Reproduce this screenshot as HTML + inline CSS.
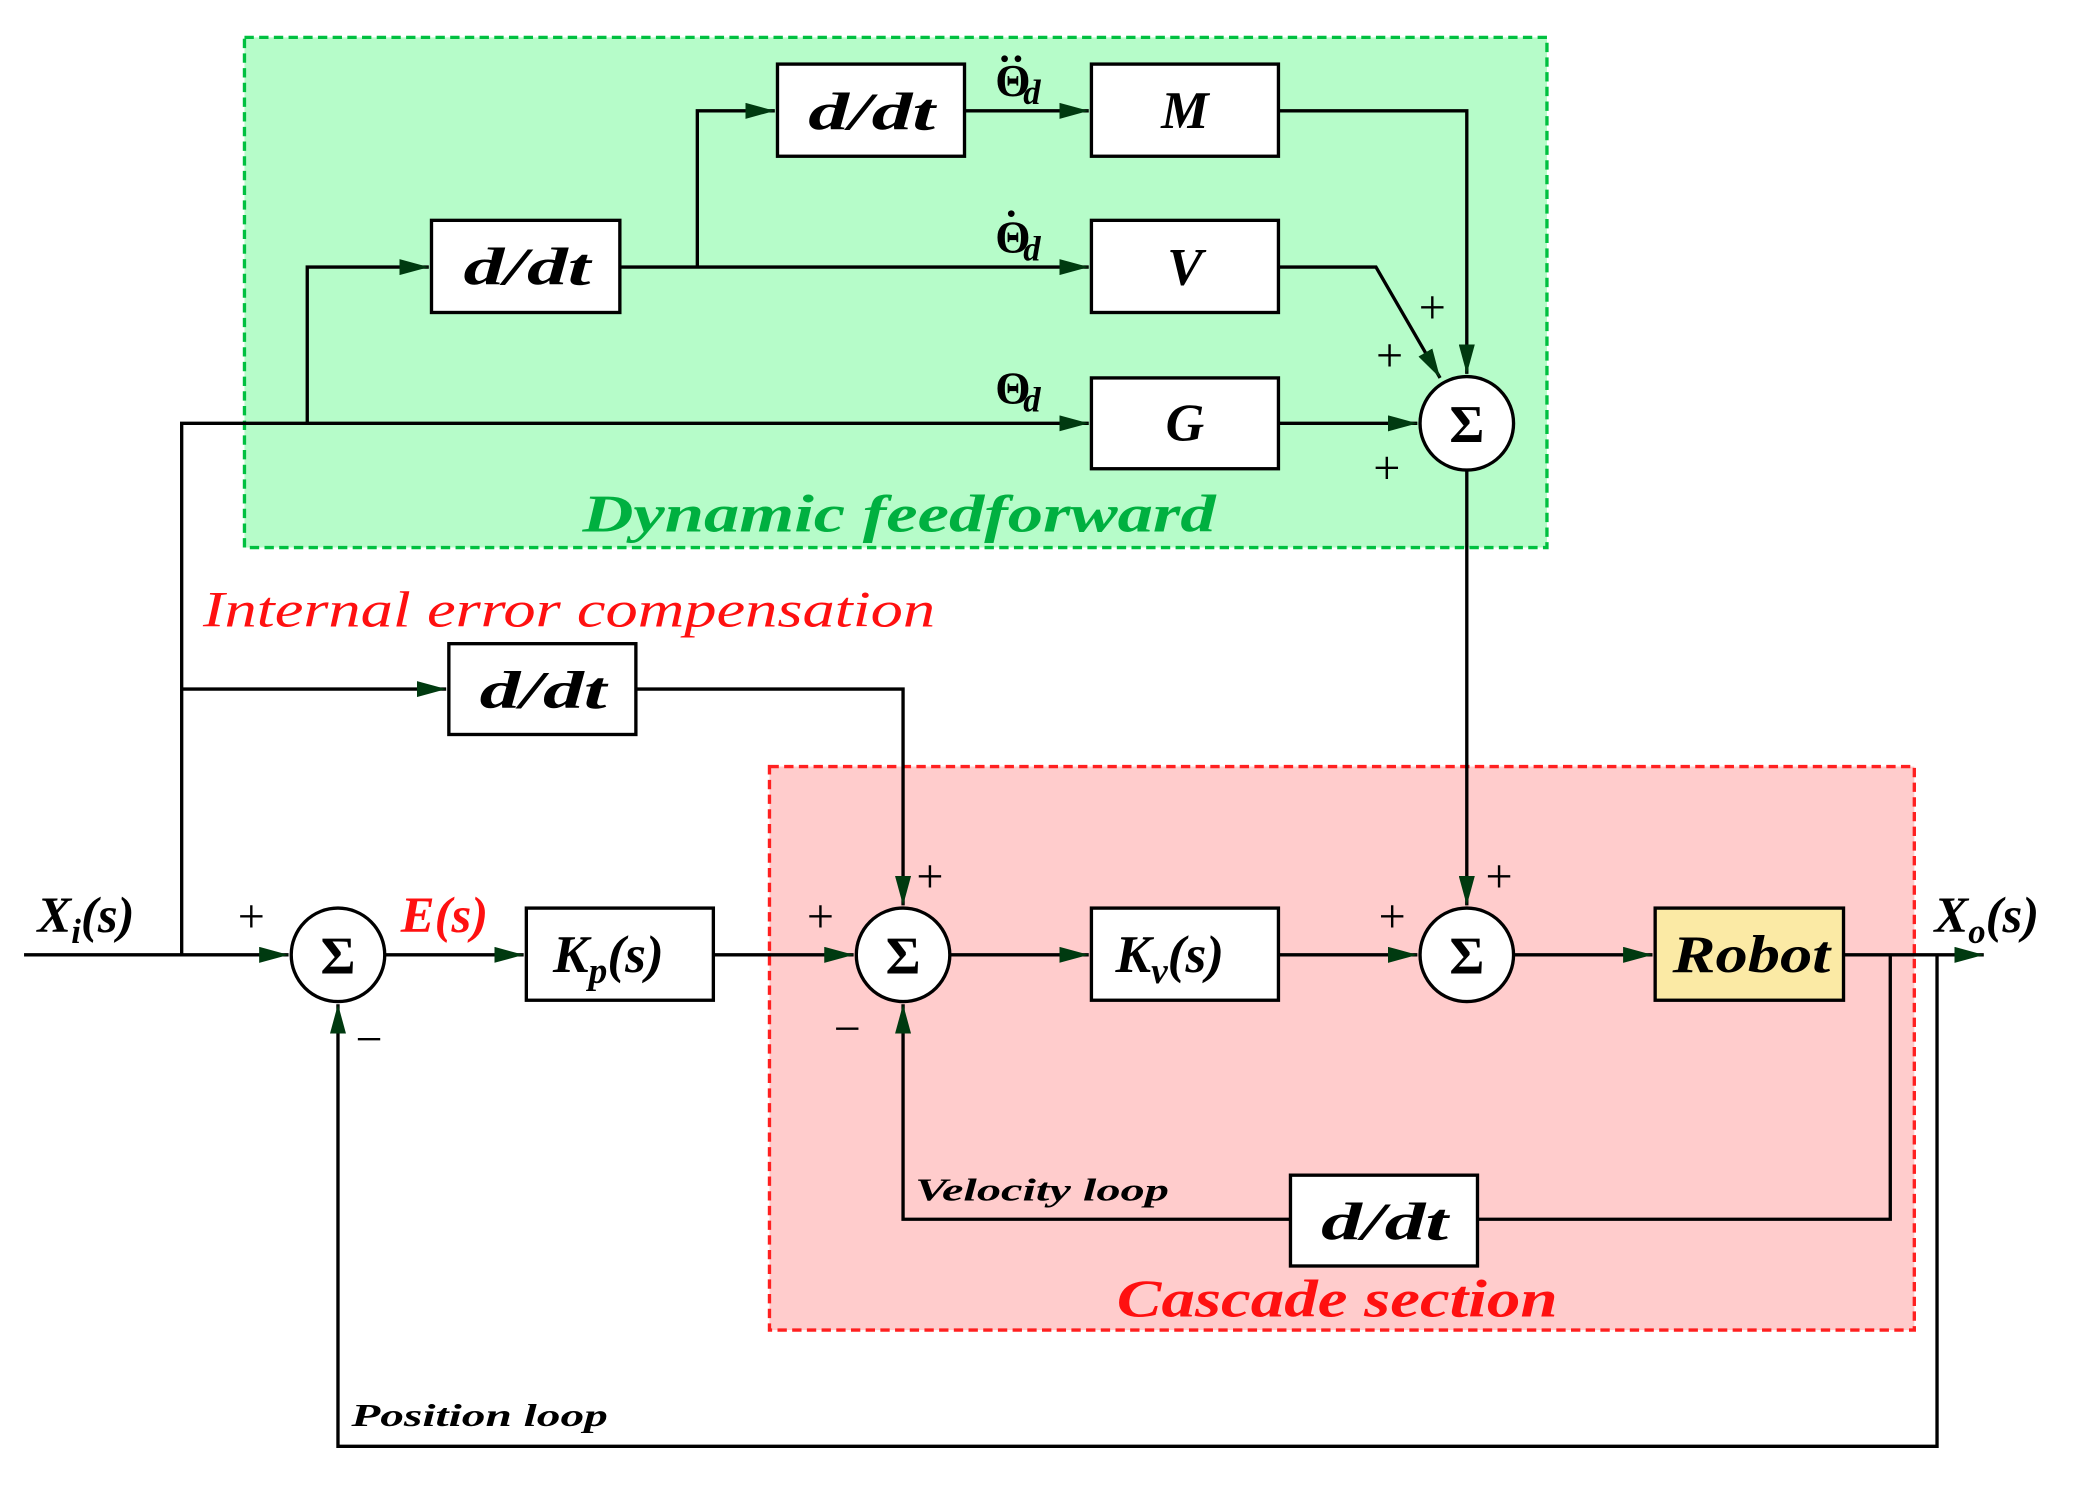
<!DOCTYPE html>
<html><head><style>html,body{margin:0;padding:0;background:#fff}svg{display:block}</style></head><body>
<svg width="2096" height="1485" viewBox="0 0 1569 1112" preserveAspectRatio="none" xmlns="http://www.w3.org/2000/svg" font-family="Liberation Serif, serif" font-style="italic" font-weight="bold">
<defs><marker id="g" markerWidth="22" markerHeight="12" refX="22" refY="6" orient="auto" markerUnits="userSpaceOnUse"><path d="M0,0L22,6L0,12z" fill="#003a10"/></marker></defs>
<rect x="183" y="28" width="975" height="382" fill="#b6fcc9" stroke="#00c040" stroke-width="2.5" stroke-dasharray="7,4"/>
<rect x="576" y="574" width="857" height="422" fill="#ffcccc" stroke="#ff2020" stroke-width="2.5" stroke-dasharray="7,4"/>
<g fill="none" stroke="#000" stroke-width="2.5">
<path d="M18,715H216" marker-end="url(#g)"/>
<path d="M136,715V317H815" marker-end="url(#g)"/>
<path d="M230,317V200H321" marker-end="url(#g)"/>
<path d="M464,200H815" marker-end="url(#g)"/>
<path d="M522,200V83H580" marker-end="url(#g)"/>
<path d="M722,83H815" marker-end="url(#g)"/>
<path d="M957,83H1098V280" marker-end="url(#g)"/>
<path d="M957,200H1030L1078,283" marker-end="url(#g)"/>
<path d="M957,317H1061" marker-end="url(#g)"/>
<path d="M1098,352V678" marker-end="url(#g)"/>
<path d="M136,516H334" marker-end="url(#g)"/>
<path d="M476,516H676V678" marker-end="url(#g)"/>
<path d="M288,715H392" marker-end="url(#g)"/>
<path d="M534,715H639" marker-end="url(#g)"/>
<path d="M711,715H815" marker-end="url(#g)"/>
<path d="M957,715H1061" marker-end="url(#g)"/>
<path d="M1133,715H1237" marker-end="url(#g)"/>
<path d="M1380,715H1485" marker-end="url(#g)"/>
<path d="M1415,715V913H1106"/>
<path d="M966,913H676V752" marker-end="url(#g)"/>
<path d="M1450,715V1083H253V752" marker-end="url(#g)"/>
</g>
<g stroke="#000" stroke-width="2.5" fill="#fff">
<rect x="582" y="48" width="140" height="69"/><rect x="817" y="48" width="140" height="69"/>
<rect x="323" y="165" width="141" height="69"/><rect x="817" y="165" width="140" height="69"/>
<rect x="817" y="283" width="140" height="68"/><rect x="336" y="482" width="140" height="68"/>
<rect x="394" y="680" width="140" height="69"/><rect x="817" y="680" width="140" height="69"/>
<rect x="1239" y="680" width="141" height="69" fill="#fbeaa5"/><rect x="966" y="880" width="140" height="68"/>
<circle cx="1098" cy="317" r="35"/><circle cx="253" cy="715" r="35"/><circle cx="676" cy="715" r="35"/><circle cx="1098" cy="715" r="35"/>
</g>
<g font-size="40" text-anchor="middle" font-style="normal">
<text x="1098" y="331">Σ</text><text x="253" y="729">Σ</text><text x="676" y="729">Σ</text><text x="1098" y="729">Σ</text></g>
<g font-size="40">
<text x="605" y="97" textLength="95" lengthAdjust="spacingAndGlyphs">d/dt</text>
<text x="347" y="213" textLength="95" lengthAdjust="spacingAndGlyphs">d/dt</text>
<text x="359" y="530" textLength="95" lengthAdjust="spacingAndGlyphs">d/dt</text>
<text x="989" y="928" textLength="95" lengthAdjust="spacingAndGlyphs">d/dt</text>
<text x="887" y="96" text-anchor="middle">M</text><text x="887" y="213" text-anchor="middle">V</text>
<text x="887" y="330" text-anchor="middle">G</text>
<text x="414" y="728">K<tspan font-size="28" dy="8">p</tspan><tspan dy="-8">(s)</tspan></text>
<text x="835" y="728">K<tspan font-size="28" dy="8">v</tspan><tspan dy="-8">(s)</tspan></text>
<text x="1252" y="728" textLength="118" lengthAdjust="spacingAndGlyphs">Robot</text></g>
<g font-size="38">
<text x="28" y="698">X<tspan font-size="26" dy="8">i</tspan><tspan dy="-8">(s)</tspan></text>
<text x="1448" y="698">X<tspan font-size="26" dy="8">o</tspan><tspan dy="-8">(s)</tspan></text>
<text x="300" y="698" fill="#ff1010">E(s)</text>
</g>
<g font-size="34" font-style="normal">
<text x="745" y="72">Θ</text><text x="766" y="78" font-style="italic" font-size="26">d</text>
<circle cx="752" cy="44" r="2.5"/><circle cx="762" cy="44" r="2.5"/>
<text x="745" y="189">Θ</text><text x="766" y="195" font-style="italic" font-size="26">d</text>
<circle cx="757" cy="160" r="2.5"/>
<text x="745" y="302">Θ</text><text x="766" y="308" font-style="italic" font-size="26">d</text>
</g>
<g font-size="36" font-style="normal" font-weight="normal">
<text x="1062" y="242">+</text><text x="1030" y="278">+</text><text x="1028" y="362">+</text>
<text x="178" y="698">+</text><text x="266" y="790">−</text><text x="604" y="698">+</text><text x="686" y="668">+</text>
<text x="624" y="782">−</text><text x="1032" y="698">+</text><text x="1112" y="668">+</text></g>
<text x="436" y="398" font-size="40" fill="#00b040" textLength="474" lengthAdjust="spacingAndGlyphs">Dynamic feedforward</text>
<text x="152" y="469" font-size="38" fill="#ff1010" font-weight="normal" textLength="548" lengthAdjust="spacingAndGlyphs">Internal error compensation</text>
<text x="836" y="986" font-size="40" fill="#ff1010" textLength="330" lengthAdjust="spacingAndGlyphs">Cascade section</text>
<text x="685" y="899" font-size="24" textLength="190" lengthAdjust="spacingAndGlyphs">Velocity loop</text>
<text x="263" y="1068" font-size="24" textLength="192" lengthAdjust="spacingAndGlyphs">Position loop</text>
</svg>
</body></html>
